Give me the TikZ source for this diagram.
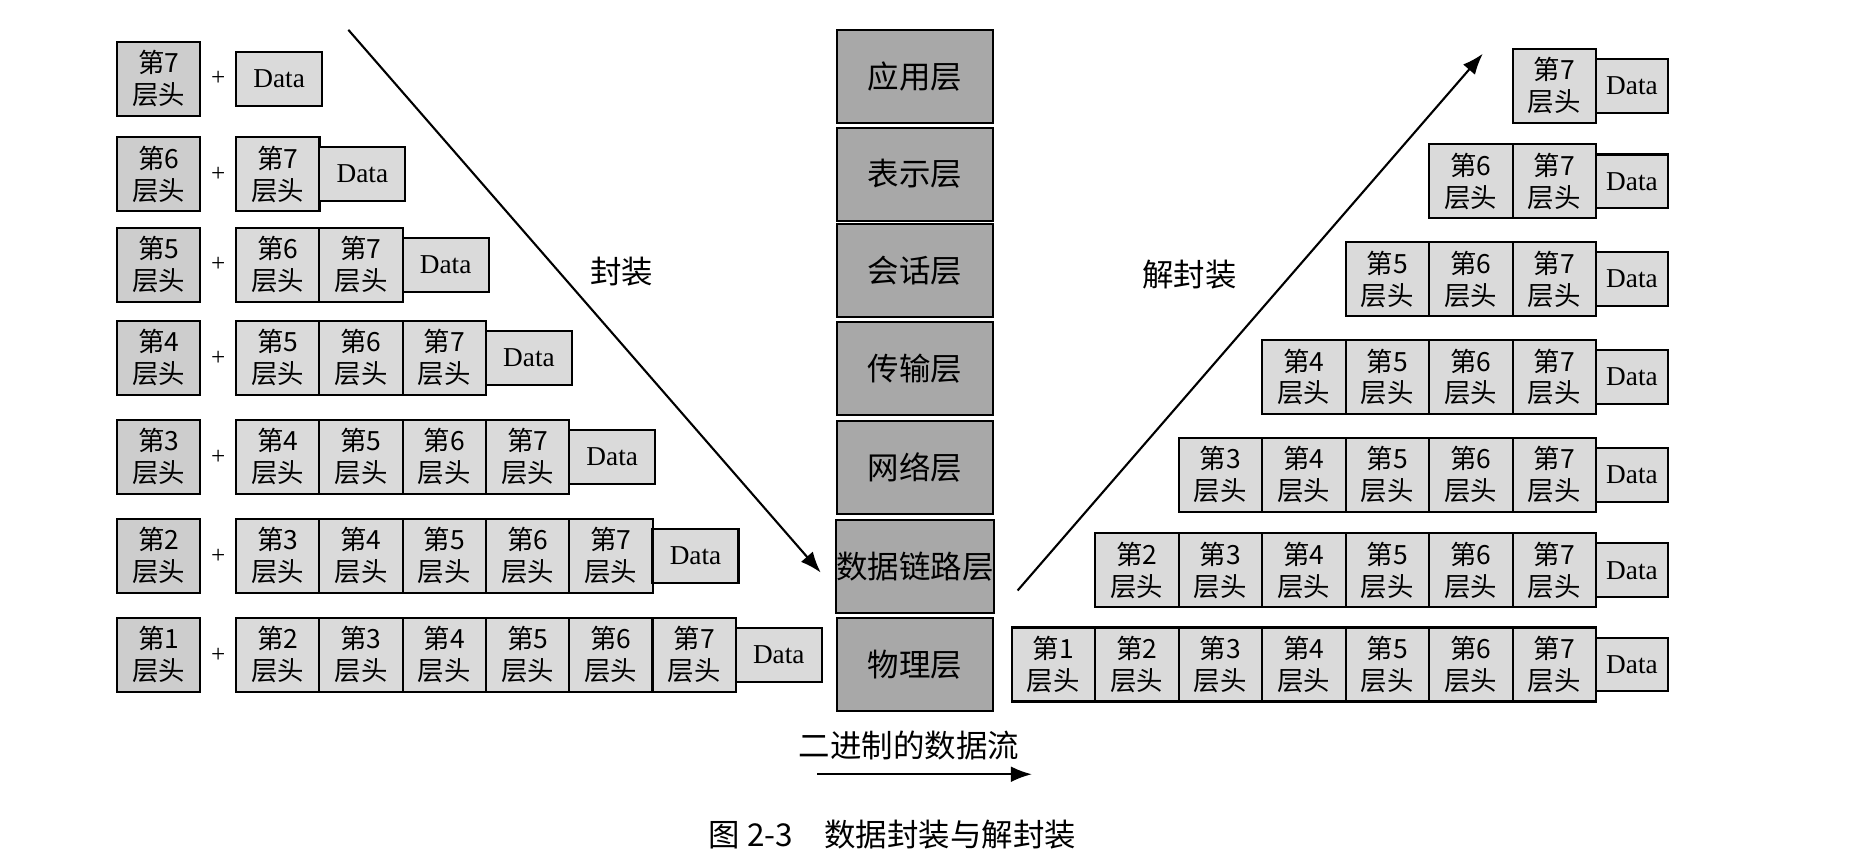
\documentclass[tikz,border=0pt]{standalone}
\usepackage{fontspec}
\setmainfont{Liberation Serif}
\newfontfamily\cjk{Noto Sans CJK SC}
\usetikzlibrary{arrows.meta, positioning}
\definecolor{cellGray}{RGB}{218,218,218}
\definecolor{headGray}{RGB}{205,205,205}
\definecolor{layerGray}{RGB}{168,168,168}

\begin{document}
\begin{tikzpicture}[x=0.01cm, y=-0.01cm,
    cell/.style={
        rectangle, draw, fill=cellGray, line width=0.5pt,
        minimum width=0.698cm, minimum height=0.62cm, inner sep=0pt,
        align=center, font=\fontsize{6.3}{7.6}\selectfont\cjk
    },
    rcell/.style={cell, minimum width=0.7cm},
    datab/.style={
        rectangle, draw, fill=cellGray, line width=0.5pt,
        minimum height=0.45cm, inner sep=0pt,
        font=\fontsize{6.5}{7.5}\selectfont
    },
    layer/.style={
        rectangle, draw, fill=layerGray, line width=0.5pt,
        minimum width=1.3cm, minimum height=0.78cm, inner sep=0pt,
        font=\fontsize{7.5}{9}\selectfont\cjk
    },
    arrow/.style={-{Latex[length=5pt]}, line width=0.5pt}
]
    \useasboundingbox (0,0) rectangle (1560,727);

    % Left: encapsulation
    \foreach \r/\yy in {0/66, 1/146, 2/222, 3/300, 4/383, 5/466, 6/549} {
        \pgfmathtruncatemacro\n{7-\r}
        \node[cell, fill=headGray] (L\r h) at (133,\yy) {第\n\\层头};
        \node[font=\fontsize{6}{7}\selectfont] (L\r p) at (183,\yy) {+};
        \ifnum\r>0
        \foreach \j in {1,...,\r} {
            \pgfmathtruncatemacro\m{\n+\j}
            \node[cell] (L\r c\j) at ({198+69.8*(\j-0.5)},\yy) {第\m\\层头};
        }
        \fi
        \node[datab, minimum width=0.72cm] (L\r d) at ({198+69.8*\r+36},\yy) {Data};
    }

    % OSI layers
    \foreach \i/\name/\yy in {1/应用层/64, 2/表示层/146, 3/会话层/227, 4/传输层/309,
                              5/网络层/392, 6/数据链路层/475, 7/物理层/557} {
        \node[layer] (osi\i) at (767,\yy) {\name};
    }

    % Right: decapsulation
    \foreach \r/\yy in {0/72, 1/152, 2/234, 3/316, 4/398, 5/478, 6/557} {
        \foreach \j in {0,...,\r} {
            \pgfmathtruncatemacro\m{7-\r+\j}
            \node[rcell] (R\r c\j) at ({1338-70*(\r-\j+0.5)},\yy) {第\m\\层头};
        }
        \node[datab, minimum width=0.6cm] (R\r d) at (1368,\yy) {Data};
    }

    % Arrows and labels
    \coordinate (encS) at (292,25);
    \coordinate (encE) at (688,480);
    \coordinate (decS) at (853,495);
    \coordinate (decE) at (1243,45);
    \draw[arrow] (encS) -- (encE);
    \draw[arrow] (decS) -- (decE);
    \node[font=\fontsize{7.5}{9}\selectfont\cjk] (encL) at (521,228) {封装};
    \node[font=\fontsize{7.5}{9}\selectfont\cjk] (decL) at (997,230) {解封装};

    \node[font=\fontsize{7.5}{9}\selectfont\cjk] (flowL) at (762,625) {二进制的数据流};
    \coordinate (flowS) at (685,649);
    \coordinate (flowE) at (865,649);
    \draw[arrow] (flowS) -- (flowE);

    \node[font=\fontsize{7.5}{9}\selectfont\cjk] (caption) at (748,700) {图 2-3\quad 数据封装与解封装};
\end{tikzpicture}
\end{document}
